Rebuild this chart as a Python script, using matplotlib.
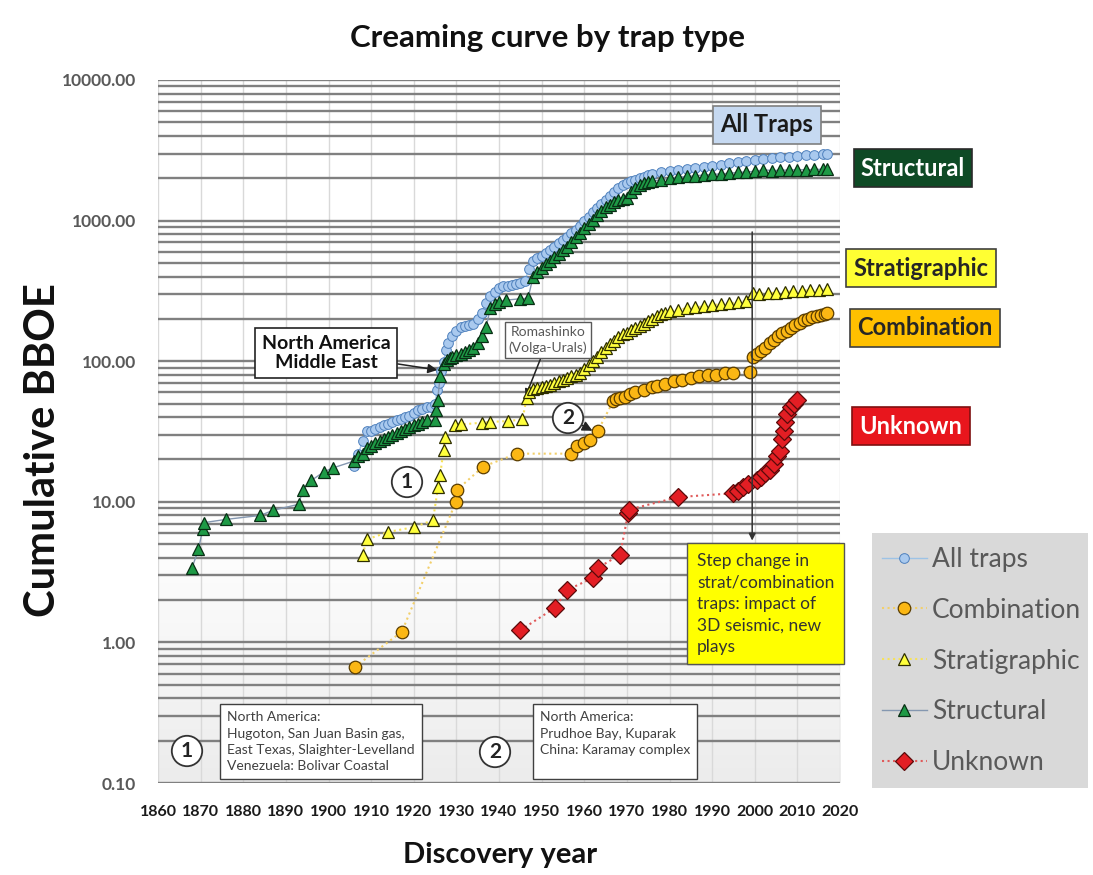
import numpy as np
import matplotlib
matplotlib.use('Agg')
import matplotlib.pyplot as plt
from matplotlib.ticker import LogLocator, FixedLocator, FuncFormatter
from matplotlib.colors import LinearSegmentedColormap
from matplotlib.patches import Rectangle

plt.rcParams['font.family'] = ['Lato', 'DejaVu Sans']

# ---- data ----
all_year = [1906, 1907, 1908, 1909, 1910, 1911, 1912, 1913, 1914, 1915, 1916, 1917, 1918, 1919,
            1920, 1921, 1922, 1923, 1924, 1925, 1925.5, 1926, 1926.5, 1927, 1927.5, 1928, 1929,
            1930, 1931, 1932, 1933, 1934, 1935, 1936, 1937, 1938, 1939, 1940, 1941, 1942, 1943,
            1944, 1945, 1946, 1947, 1948, 1949, 1950, 1951, 1952, 1953, 1954, 1955, 1956, 1957,
            1958, 1959, 1960, 1961, 1962, 1963, 1964, 1965, 1966, 1967, 1968, 1969, 1970, 1971,
            1972, 1973, 1974, 1975, 1976, 1978, 1980, 1982, 1984, 1986, 1988, 1990, 1992, 1994,
            1996, 1998, 2000, 2002, 2004, 2006, 2008, 2010, 2012, 2014, 2016, 2017]
all_val = [18, 22, 27, 32, 32, 33, 34, 35, 36, 37, 38, 39, 40, 41,
           43, 45, 46, 47, 47, 50, 62, 70, 85, 98, 120, 135, 150,
           165, 175, 178, 180, 185, 200, 220, 260, 290, 310, 330, 340, 345, 350,
           355, 360, 370, 450, 520, 540, 560, 590, 615, 650, 690, 730, 770, 810,
           860, 920, 990, 1060, 1150, 1230, 1320, 1400, 1500, 1600, 1700, 1780, 1850, 1900,
           1950, 2000, 2050, 2100, 2150, 2200, 2250, 2300, 2330, 2370, 2400, 2450, 2500, 2550,
           2600, 2650, 2700, 2740, 2780, 2820, 2850, 2880, 2910, 2940, 2970, 3000]

struct_year = [1868, 1869.5, 1870.5, 1870.7, 1876, 1884, 1887, 1893, 1894, 1896, 1899, 1901,
               1906, 1907, 1908, 1909, 1910, 1911, 1912, 1913, 1914, 1915, 1916, 1917, 1918,
               1919, 1920, 1921, 1922, 1923, 1925, 1925.3, 1925.6, 1926.2, 1927, 1927.8, 1928.5,
               1929, 1930, 1931, 1932, 1933, 1934, 1935, 1936, 1937, 1938, 1939, 1940, 1941.7,
               1945, 1946.8, 1948, 1949, 1950, 1951, 1952, 1953, 1954, 1955, 1956, 1957, 1958,
               1959, 1960, 1961, 1962, 1963, 1964, 1965, 1966, 1967, 1968, 1969, 1970, 1971,
               1972, 1973, 1974, 1975, 1976, 1978, 1980, 1982, 1984, 1986, 1988, 1990, 1992,
               1994, 1996, 1998, 2000, 2002, 2004, 2006, 2008, 2010, 2012, 2014, 2016, 2017]
struct_val = [3.4, 4.6, 6.4, 7.1, 7.5, 8.0, 8.7, 9.6, 12.2, 14.2, 16.4, 17.4,
              19.5, 21, 22, 24, 25, 26, 27, 28, 29, 30, 31, 32, 33,
              34, 35, 36, 37, 38, 38, 45, 53, 78, 95, 102, 105,
              108, 110, 113, 116, 120, 125, 135, 150, 176, 240, 255, 265, 272,
              278, 280, 398, 430, 460, 490, 520, 550, 580, 615, 650, 700, 760,
              820, 880, 940, 1010, 1090, 1170, 1250, 1300, 1350, 1400, 1420, 1450, 1600,
              1710, 1780, 1840, 1880, 1910, 1950, 2000, 2030, 2060, 2080, 2110, 2130, 2150,
              2170, 2200, 2220, 2240, 2300, 2270, 2280, 2290, 2300, 2300, 2310, 2320, 2340]

strat_year = [1908, 1909, 1914, 1920, 1924.5, 1925.7, 1926.2, 1927, 1927.3, 1929.7, 1931, 1936,
              1938, 1942, 1945.5, 1946.5, 1947, 1948, 1949, 1950, 1951, 1952, 1953, 1954, 1955,
              1956, 1957, 1958, 1959, 1960, 1961, 1962, 1963, 1964, 1965, 1966, 1967, 1968, 1969,
              1970, 1971, 1972, 1973, 1974, 1975, 1976, 1977, 1978, 1979, 1980, 1982, 1984, 1986,
              1988, 1990, 1992, 1994, 1996, 1998, 1999.5, 2001, 2003, 2005, 2007, 2009, 2011,
              2013, 2015, 2017]
strat_val = [4.2, 5.4, 6.1, 6.6, 7.4, 12.7, 15.5, 23.5, 29, 35, 35.5, 36.5,
             37, 37.5, 38.5, 55, 60, 63, 64, 66, 67, 68, 70, 72, 74,
             76, 78, 80, 83, 88, 94, 100, 108, 116, 125, 132, 140, 148, 155,
             160, 166, 172, 178, 185, 192, 200, 208, 215, 220, 226, 232, 238, 242,
             245, 250, 255, 258, 262, 268, 305, 300, 308, 305, 310, 315, 318,
             320, 322, 325]

comb_year = [1906.2, 1917.2, 1929.9, 1930.2, 1936.3, 1944.2, 1957, 1958.3, 1960, 1961.4, 1963.2,
             1966.8, 1967.5, 1968.5, 1969.5, 1970.7, 1972, 1974, 1976, 1977, 1979, 1981, 1983,
             1985, 1987, 1989, 1991, 1993, 1995, 1999, 1999.6, 2000.5, 2001.5, 2002.5, 2003.6,
             2004.5, 2005.5, 2006.5, 2007.5, 2008.5, 2009.5, 2010.5, 2011.5, 2012.5, 2013.5,
             2014.5, 2015.5, 2016.5, 2017]
comb_val = [0.67, 1.19, 10, 12.2, 17.8, 22, 22, 25, 26, 27.5, 32,
            52, 54, 55, 56, 58, 60, 62, 66, 67, 69, 72, 74,
            76, 78, 80, 80, 82, 83, 84, 107, 112, 118, 125, 135,
            142, 150, 158, 165, 172, 180, 188, 195, 200, 205,
            210, 213, 217, 220]

unk_year = [1945, 1953.1, 1956, 1962, 1963.2, 1968.4, 1970.3, 1970.5, 1982, 1995, 1996, 1997.2,
            1998.5, 2000.5, 2001.5, 2002.5, 2003.6, 2004.5, 2005.3, 2006, 2006.5, 2006.8, 2007.2,
            2007.6, 2008.5, 2009.3, 2010]
unk_val = [1.22, 1.76, 2.36, 2.87, 3.39, 4.2, 8.3, 8.8, 10.8, 11.5, 12, 12.8,
           13.3, 14.3, 15, 16, 16.8, 18.5, 21, 23, 28, 32, 37,
           42, 47, 50, 53]

x_ticks = list(range(1860, 2021, 10))
y_ticks = [0.1, 1, 10, 100, 1000, 10000]

W, H = 1093, 875


def px(x, y):
    # figure pixel -> figure fraction
    return x / W, 1 - y / H


fig = plt.figure(figsize=(W / 100, H / 100), dpi=100)
ax = fig.add_axes([158 / W, 1 - 783 / H, (840 - 158) / W, (783 - 80) / H])

# faint gray shading in the lower part of the plot
cmap = LinearSegmentedColormap.from_list('bg', ['#ececec', '#ffffff'])
ax.imshow(np.linspace(0, 1, 100).reshape(-1, 1), extent=[0, 1, 0, 0.36], origin='lower',
          transform=ax.transAxes, aspect='auto', cmap=cmap, zorder=0)

ax.set_yscale('log')
ax.set_xlim(1860, 2020)
ax.set_ylim(0.1, 10000)

ax.plot(unk_year, unk_val, ls=':', color='#e05a5a', lw=1.5, marker='D', ms=9,
        mfc='#e31e24', mec='#5a0a0a', mew=0.9, zorder=4, label='Unknown')
ax.plot(comb_year, comb_val, ls=':', color='#f2cf6a', lw=1.5, marker='o', ms=9,
        mfc='#fbb714', mec='#5a3d00', mew=0.9, zorder=4, label='Combination')
ax.plot(strat_year, strat_val, ls=':', color='#f7e25a', lw=1.5, marker='^', ms=9,
        mfc='#ffff3c', mec='#2e2e00', mew=0.9, zorder=4, label='Stratigraphic')
ax.plot(struct_year, struct_val, ls='-', color='#8497b0', lw=1, marker='^', ms=9,
        mfc='#1e9a46', mec='#082e14', mew=0.9, zorder=5, label='Structural')
ax.plot(all_year, all_val, ls='-', color='#9dc3e6', lw=1, marker='o', ms=7,
        mfc='#a9c9ee', mec='#4f81bd', mew=0.7, zorder=4.5, label='All traps')

# grid
ax.xaxis.set_major_locator(FixedLocator(x_ticks))
ax.yaxis.set_major_locator(FixedLocator(y_ticks))
ax.yaxis.set_minor_locator(LogLocator(base=10, subs=range(2, 10)))
ax.yaxis.set_minor_formatter(FuncFormatter(lambda v, p: ''))
ax.yaxis.set_major_formatter(FuncFormatter(lambda v, p: f'{v:.2f}'))
ax.grid(axis='x', which='major', color='#d9d9d9', lw=1, zorder=1)
ax.grid(axis='y', which='both', color='#808080', lw=1.7, zorder=1)
ax.set_axisbelow(True)
for s in ax.spines.values():
    s.set_visible(False)
ax.tick_params(axis='both', which='both', length=0)
ax.tick_params(axis='y', pad=16, labelsize=12.5, labelcolor='#595959')
ax.tick_params(axis='x', pad=16, labelsize=11.5, labelcolor='#1a1a1a')
for lab in ax.get_xticklabels() + ax.get_yticklabels():
    lab.set_fontweight('bold')

# titles
fig.text(*px(547, 38), 'Creaming curve by trap type', ha='center', va='center',
         fontsize=22.5, fontweight='bold', color='#111111')
fig.text(*px(500, 855), 'Discovery year', ha='center', va='center',
         fontsize=21, fontweight='bold', color='#111111')
fig.text(*px(43, 450), 'Cumulative BBOE', ha='center', va='center', rotation=90,
         fontsize=30, fontweight='bold', color='#111111')


# series name boxes on the right
def tag(x, y, s, fc, tc, ec='#404040', size=17):
    fig.text(*px(x, y), s, ha='center', va='center', fontsize=size, fontweight='bold',
             color=tc, bbox=dict(boxstyle='square,pad=0.3', fc=fc, ec=ec, lw=1.2))


tag(767, 125, 'All Traps', '#c6d9f1', '#1a1a1a', ec='#7f7f7f')
tag(913, 168, 'Structural', '#0e4a25', 'white', ec='#2a2a2a')
tag(921, 268, 'Stratigraphic', '#ffff33', '#262626')
tag(925, 328, 'Combination', '#ffc000', '#262626')
tag(911, 426, 'Unknown', '#e8161d', 'white', ec='#7f1010')

# in-plot annotations
ax.annotate('North America\nMiddle East', xy=(1926.2, 86), xycoords='data',
            xytext=px(326, 353), textcoords='figure fraction', ha='center', va='center',
            fontsize=14, fontweight='bold', color='#111111', linespacing=1.15,
            bbox=dict(boxstyle='square,pad=0.35', fc='white', ec='#222222', lw=1.2),
            arrowprops=dict(arrowstyle='-|>', color='#222222', lw=1.1, shrinkA=0, shrinkB=2))
ax.annotate('Romashinko\n(Volga-Urals)', xy=(1946.0, 54), xycoords='data',
            xytext=px(548, 340), textcoords='figure fraction', ha='center', va='center',
            fontsize=10, color='#595959', linespacing=1.35,
            bbox=dict(boxstyle='square,pad=0.3', fc='white', ec='#595959', lw=1),
            arrowprops=dict(arrowstyle='-|>', color='#222222', lw=1.1, shrinkA=0, shrinkB=2))

circ = dict(boxstyle='circle,pad=0.25', fc='white', ec='#333333', lw=1.3)
fig.text(*px(407, 482), '1', ha='center', va='center', fontsize=15, fontweight='bold',
         color='#222222', bbox=circ)
ax.annotate('2', xy=(1962.8, 31), xycoords='data', xytext=px(568, 418),
            textcoords='figure fraction', ha='center', va='center', fontsize=15,
            fontweight='bold', color='#222222', bbox=circ,
            arrowprops=dict(arrowstyle='-|>', color='#222222', lw=1.1, shrinkA=0, shrinkB=3))

ax.annotate('', xy=(1999.4, 5.3), xytext=(1999.4, 830),
            arrowprops=dict(arrowstyle='-|>', color='#333333', lw=1.1, shrinkA=0, shrinkB=0),
            zorder=6)
fig.text(*px(697, 553), 'Step change in\nstrat/combination\ntraps: impact of\n3D seismic, new\nplays',
         ha='left', va='top', fontsize=12.5, color='#333333', linespacing=1.42,
         bbox=dict(boxstyle='square,pad=0.55', fc='#ffff00', ec='#555555', lw=1))

# footnote boxes at the bottom
fig.text(*px(187, 751), '1', ha='center', va='center', fontsize=15, fontweight='bold',
         color='#222222', bbox=circ)
fig.text(*px(227, 711), 'North America:\nHugoton, San Juan Basin gas,\nEast Texas, Slaighter-Levelland\n'
         'Venezuela: Bolivar Coastal', ha='left', va='top', fontsize=10, color='#404040',
         linespacing=1.45,
         bbox=dict(boxstyle='square,pad=0.5', fc='white', ec='#404040', lw=1))
fig.text(*px(495, 752), '2', ha='center', va='center', fontsize=15, fontweight='bold',
         color='#222222', bbox=circ)
fig.text(*px(540, 711), 'North America:\nPrudhoe Bay, Kuparak\nChina: Karamay complex\n ',
         ha='left', va='top', fontsize=10, color='#404040', linespacing=1.45,
         bbox=dict(boxstyle='square,pad=0.5', fc='white', ec='#404040', lw=1))

# legend in a gray panel
fig.patches.append(Rectangle(px(872, 788), (1088 - 872) / W, (788 - 533) / H,
                             transform=fig.transFigure, fc='#d9d9d9', ec='none', zorder=0))
handles, labels = ax.get_legend_handles_labels()
order = ['All traps', 'Combination', 'Stratigraphic', 'Structural', 'Unknown']
hmap = dict(zip(labels, handles))
leg = fig.legend([hmap[k] for k in order], order, loc='upper left',
                 bbox_to_anchor=px(866, 531), frameon=False, fontsize=19,
                 labelcolor='#595959', handlelength=1.7, handletextpad=0.2,
                 labelspacing=0.98, borderaxespad=0.2)

fig.savefig('out.png', dpi=100)
